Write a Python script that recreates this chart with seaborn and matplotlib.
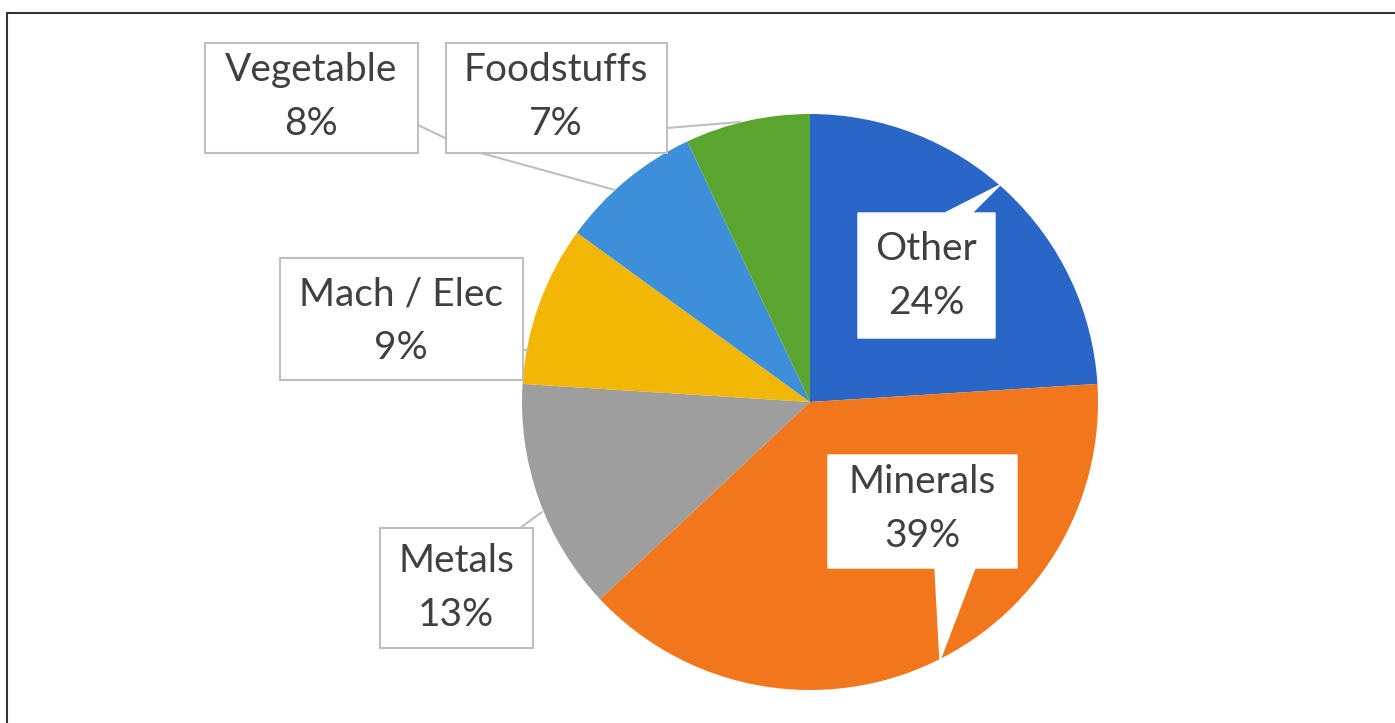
import matplotlib
matplotlib.use("Agg")
import matplotlib.pyplot as plt
import seaborn as sns
from matplotlib.patches import Rectangle, Polygon

# data
categories = ["Other", "Minerals", "Metals", "Mach / Elec", "Vegetable", "Foodstuffs"]
shares = [24, 39, 13, 9, 8, 7]
colors = ["#2a66c8", "#f2761b", "#9e9e9e", "#f2b705", "#3d8fd9", "#5aa52f"]

sns.set_theme(style="white")
plt.rcParams["font.family"] = ["Lato", "DejaVu Sans"]

W, H = 1395, 723
fig = plt.figure(figsize=(W / 100, H / 100), dpi=100)
ax = fig.add_axes([0, 0, 1, 1])


def py(y):
    # pixel row -> data y
    return H - y


ax.pie(shares, colors=colors, startangle=90, counterclock=False,
       center=(810, py(402)), radius=288, frame=True,
       wedgeprops=dict(linewidth=0))
ax.set_xlim(0, W)
ax.set_ylim(0, H)
ax.axis("off")

edge = "#bfbfbf"
txt = "#404040"
fs = 28

# leader lines (drawn below boxes)
ax.plot([418, 470, 615], [py(125), py(150), py(190)], color=edge, lw=1.5, zorder=2)
ax.plot([667, 740], [py(128), py(122)], color=edge, lw=1.5, zorder=2)
ax.plot([523, 528], [py(350), py(350)], color=edge, lw=1.5, zorder=2)
ax.plot([520, 542], [py(528), py(512)], color=edge, lw=1.5, zorder=2)

# plain boxes: (x0, y0, x1, y1) in pixel rows
boxes = {
    "Vegetable": (205, 43, 418, 153),
    "Foodstuffs": (446, 43, 667, 153),
    "Mach / Elec": (280, 258, 523, 380),
    "Metals": (380, 528, 533, 648),
}
for name, (x0, y0, x1, y1) in boxes.items():
    ax.add_patch(Rectangle((x0, py(y1)), x1 - x0, y1 - y0, facecolor="white",
                           edgecolor=edge, lw=1.5, zorder=3))

# callout boxes with pointer
other_poly = [(858, 213), (945, 213), (1000, 185), (972, 213), (995, 213),
              (995, 338), (858, 338)]
minerals_poly = [(828, 455), (1017, 455), (1017, 568), (975, 568), (940, 660),
                 (935, 568), (828, 568)]
for poly in (other_poly, minerals_poly):
    ax.add_patch(Polygon([(x, py(y)) for x, y in poly], closed=True,
                         facecolor="white", edgecolor="white", lw=1, zorder=3))

label_pos = {
    "Other": (926, 276),
    "Minerals": (922, 509),
    "Metals": (456, 588),
    "Mach / Elec": (401, 321),
    "Vegetable": (311, 97),
    "Foodstuffs": (556, 97),
}
for name, pct in zip(categories, shares):
    x, y = label_pos[name]
    ax.text(x, py(y), f"{name}\n{pct}%", ha="center", va="center", fontsize=fs,
            color=txt, linespacing=1.6, zorder=4)

# outer frame
ax.plot([7, 7, W], [0, py(13), py(13)], color="#333333", lw=1.5, zorder=5,
        clip_on=False)

fig.savefig("out.png", dpi=100)
